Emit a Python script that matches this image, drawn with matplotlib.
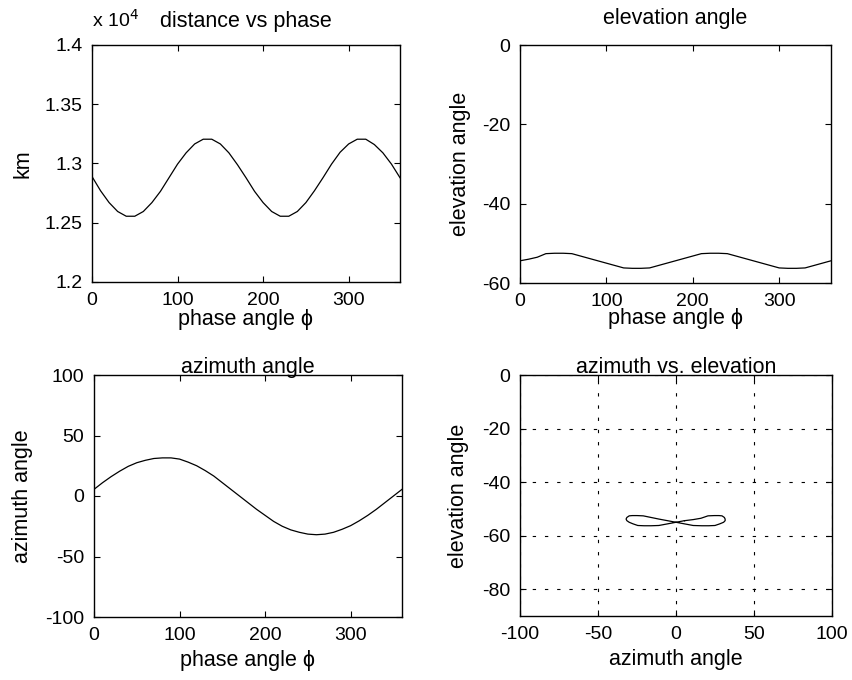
import numpy as np
import matplotlib
matplotlib.use("Agg")
import matplotlib.pyplot as plt
from matplotlib.ticker import FuncFormatter

# phase angle samples (deg)
phase = [0, 10, 20, 30, 40, 50, 60, 70, 80, 90, 100, 110, 120, 130, 140, 150,
         160, 170, 180, 190, 200, 210, 220, 230, 240, 250, 260, 270, 280, 290,
         300, 310, 320, 330, 340, 350, 360]

# distance (km)
distance = [12890, 12770, 12670, 12595, 12555, 12555, 12595, 12670, 12765,
            12880, 12995, 13090, 13165, 13205, 13205, 13165, 13090, 12990,
            12880, 12765, 12670, 12595, 12555, 12555, 12595, 12670, 12770,
            12880, 12995, 13095, 13165, 13205, 13205, 13160, 13090, 12995,
            12880]

# elevation angle (deg)
elevation = [-54.4, -54.0, -53.5, -52.6, -52.5, -52.5, -52.6, -53.2, -53.8,
             -54.4, -55.0, -55.6, -56.2, -56.3, -56.3, -56.2, -55.6, -55.0,
             -54.4, -53.8, -53.2, -52.6, -52.5, -52.5, -52.6, -53.2, -53.8,
             -54.4, -55.0, -55.6, -56.2, -56.3, -56.3, -56.2, -55.6, -55.0,
             -54.4]

# azimuth angle (deg)
azimuth = [5.5, 11.0, 16.0, 20.5, 24.5, 27.5, 29.5, 31.0, 31.5, 31.5, 30.5,
           28.0, 25.0, 21.0, 16.5, 11.0, 5.5, 0.0, -5.5, -11.0, -16.0, -21.0,
           -25.0, -28.0, -30.0, -31.5, -32.0, -31.5, -30.0, -27.5, -24.5,
           -20.5, -16.0, -11.0, -5.5, 0.0, 5.5]

plt.rcParams['font.family'] = ['Liberation Sans', 'DejaVu Sans']
plt.rcParams['font.size'] = 14
plt.rcParams['axes.titlesize'] = 15.5
plt.rcParams['axes.labelsize'] = 15.5
plt.rcParams['axes.unicode_minus'] = False
plt.rcParams['axes.linewidth'] = 1.0

W, H = 853, 680
fig = plt.figure(figsize=(W / 100, H / 100), dpi=100)


def make_axes(left, right, top, bottom):
    ax = fig.add_axes([left / W, 1 - bottom / H, (right - left) / W, (bottom - top) / H])
    ax.tick_params(direction='in', top=True, right=True, length=4, width=0.8, pad=7)
    return ax


#distance vs phase
ax1 = make_axes(92, 400, 45, 282)
ax1.plot(phase, distance, color='black', lw=0.9)
ax1.set_xlim(0, 360)
ax1.set_ylim(12000, 14000)
ax1.set_xticks([0, 100, 200, 300])
ax1.set_yticks([12000, 12500, 13000, 13500, 14000])
ax1.yaxis.set_major_formatter(FuncFormatter(lambda v, p: f"{v / 1e4:g}"))
ax1.set_title("distance vs phase", pad=13)
ax1.text(0, 1.06, r"x 10$^4$", transform=ax1.transAxes, ha='left', va='bottom',
         fontsize=14)
ax1.set_xlabel("phase angle ϕ", labelpad=0.5)
ax1.set_ylabel("km", labelpad=8)

#elevation
ax2 = make_axes(520, 831, 45, 283)
ax2.plot(phase, elevation, color='black', lw=0.9)
ax2.set_xlim(0, 360)
ax2.set_ylim(-60, 0)
ax2.set_xticks([0, 100, 200, 300])
ax2.set_yticks([-60, -40, -20, 0])
ax2.set_title("elevation angle", pad=15)
ax2.set_xlabel("phase angle ϕ", labelpad=-1)
ax2.set_ylabel("elevation angle", labelpad=8)

#azimuth
ax3 = make_axes(94, 402, 375, 617)
ax3.plot(phase, azimuth, color='black', lw=0.9)
ax3.set_xlim(0, 360)
ax3.set_ylim(-100, 100)
ax3.set_xticks([0, 100, 200, 300])
ax3.set_yticks([-100, -50, 0, 50, 100])
ax3.set_title("azimuth angle", pad=1.5)
ax3.set_xlabel("phase angle ϕ", labelpad=4.5)
ax3.set_ylabel("azimuth angle", labelpad=9)

#azimuth vs elevation
ax4 = make_axes(520, 832, 375, 616)
ax4.plot(azimuth, elevation, color='black', lw=0.9)
ax4.set_xlim(-100, 100)
ax4.set_ylim(-90, 0)
ax4.set_xticks([-100, -50, 0, 50, 100])
ax4.set_yticks([-80, -60, -40, -20, 0])
ax4.grid(True, color='black', lw=0.8, linestyle=(0, (3, 8)))
ax4.set_title("azimuth vs. elevation", pad=1.5)
ax4.set_xlabel("azimuth angle", labelpad=4.5)
ax4.set_ylabel("elevation angle", labelpad=9)

fig.savefig("out.png", dpi=100)
